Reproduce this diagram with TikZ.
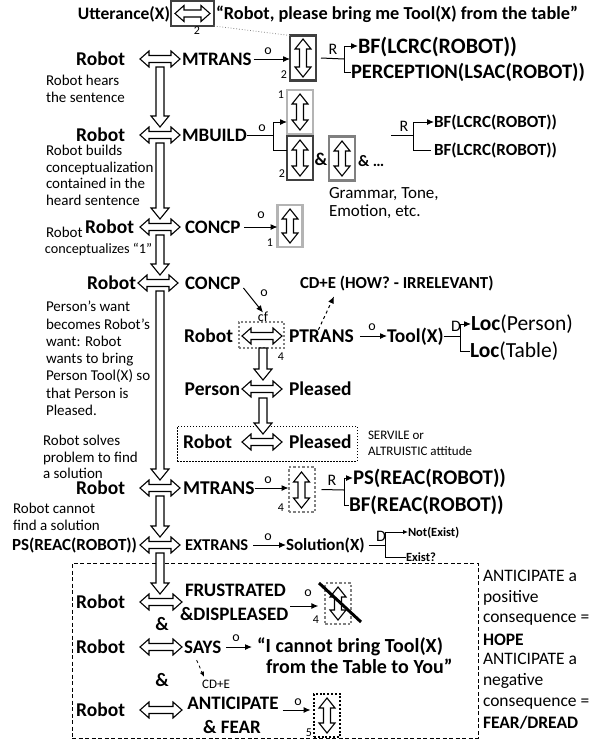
\documentclass[tikz,border=0pt]{standalone}
\usepackage{fontspec}
\setmainfont{Carlito}
\usetikzlibrary{arrows.meta}
\definecolor{dkg}{HTML}{404040}
\definecolor{mdg}{HTML}{808080}
\definecolor{ltg}{HTML}{B4B4B4}
\tikzset{
  every node/.style={inner sep=0pt, outer sep=0pt},
  B/.style={font=\bfseries\fontsize{#1}{#1}\selectfont, text height={0.644*#1}, text depth=0pt},
  N/.style={font=\fontsize{#1}{#1}\selectfont, text height={0.5*#1}, text depth=0pt},
  hol/.style={draw=black, line width=1.1pt, fill=white, line join=miter},
  ar/.style={-{Latex[length=7pt,width=6pt]}, line width=1pt},
  ln/.style={line width=1pt},
  bx/.style={draw=#1, line width=2.2pt, minimum width=26pt, minimum height=45pt},
  dbx/.style={draw=#1, line width=2pt, dash pattern=on 2.5pt off 2pt, minimum width=26pt, minimum height=45pt},
}
\newcommand\HArr[3]{\draw[hol] (#1,#3) -- ({#1+9},{#3-8}) -- ({#1+9},{#3-3.5}) -- ({#2-9},{#3-3.5}) -- ({#2-9},{#3-8}) -- (#2,#3) -- ({#2-9},{#3+8}) -- ({#2-9},{#3+3.5}) -- ({#1+9},{#3+3.5}) -- ({#1+9},{#3+8}) -- cycle;}
\newcommand\VArr[3]{\draw[hol] (#1,#2) -- ({#1+8},{#2+10}) -- ({#1+3.5},{#2+10}) -- ({#1+3.5},{#3-10}) -- ({#1+8},{#3-10}) -- (#1,#3) -- ({#1-8},{#3-10}) -- ({#1-3.5},{#3-10}) -- ({#1-3.5},{#2+10}) -- ({#1-8},{#2+10}) -- cycle;}
\newcommand\DArr[3]{\draw[hol] ({#1-4},#2) -- ({#1+4},#2) -- ({#1+4},{#3-11}) -- ({#1+9},{#3-11}) -- (#1,#3) -- ({#1-9},{#3-11}) -- ({#1-4},{#3-11}) -- cycle;}
\begin{document}
\begin{tikzpicture}[x=1pt,y=-1pt]
\useasboundingbox (0,0) rectangle (592,742);
% ---------- row 0
\node[B=17.5, anchor=east] (utt) at (170,14) {Utterance(X)};
\node[bx=dkg, minimum width=43pt, minimum height=25pt] (b0) at (192.5,13.5) {};
\HArr{175}{210}{13.5}
\node[N=12] (n0) at (197,31) {2};
\node[B=18.3, anchor=west] (q0) at (216,14) {“Robot, please bring me Tool(X) from the table”};
% ---------- row 1
\node[B=19.5, anchor=east] (r1) at (125,59) {Robot};
\HArr{140}{180}{59}
\node[B=19, anchor=west] (v1) at (182,59) {MTRANS};
\node[bx=dkg] (b1) at (303,58) {};
\VArr{303}{39}{77}
\draw[dotted, line width=0.8pt, mdg] (b0.south east) -- (b1.north west);
\draw[ar] ([xshift=2pt]v1.east) -- (v1.east -| b1.west);
\node[N=14] (o1) at (268,51) {o};
\node[N=12] (n1) at (284,75) {2};
\coordinate (br1) at (344,59);
\draw[ln] (b1.east) ++(5,0) -- (br1);
\node[N=16] (R1) at (333,50) {R};
\node[B=22, anchor=west] (bf1) at (358,46) {BF(LCRC(ROBOT))};
\node[B=20.5, anchor=west] (pc1) at (351,72) {PERCEPTION(LSAC(ROBOT))};
\draw[ar] (br1) |- (bf1.west);
\draw[ln] (br1) |- (pc1.west);
\node[N=15, anchor=west] (t1a) at (46,82) {Robot hears};
\node[N=15, anchor=west] (t1b) at (46,98.5) {the sentence};
\DArr{160}{67}{127}
% ---------- row 2
\node[B=19.5, anchor=east] (r2) at (125,135) {Robot};
\HArr{140}{180}{135}
\node[B=19, anchor=west] (v2) at (182,135) {MBUILD};
\node[bx=ltg, minimum height=44pt] (bm1) at (300,112) {};
\VArr{300}{94}{130}
\node[bx=dkg, minimum height=44pt, line width=2.6pt] (bm2) at (300,158) {};
\VArr{300}{140}{176}
\node[bx=mdg, minimum height=44pt] (bm3) at (342,158.5) {};
\VArr{342}{141}{176}
\coordinate (br2) at (273,135);
\draw[ln] (v2.east) -- (br2);
\draw[ar] (br2) |- ([yshift=-10pt]bm1.west);
\draw[ln] (br2) |- ([yshift=8pt]bm2.west);
\node[N=14] (o2) at (262,128) {o};
\node[N=12] (n2a) at (281,95) {1};
\node[N=12] (n2b) at (282,174) {2};
\node[B=18] (amp2) at (321,160) {\&};
\node[B=16, anchor=west] (amp3) at (358,161) {\& …};
\node[N=17, anchor=west] (gr1) at (329,194) {Grammar, Tone,};
\node[N=17, anchor=west] (gr2) at (329,212) {Emotion, etc.};
\coordinate (s2) at (391,135);
\coordinate (br2r) at (413,135);
\draw[ln] (s2) -- (br2r);
\node[N=16] (R2) at (404,127) {R};
\node[B=17, anchor=west] (bf2a) at (434,122) {BF(LCRC(ROBOT))};
\node[B=17, anchor=west] (bf2b) at (434,150) {BF(LCRC(ROBOT))};
\draw[ar] (br2r) |- (bf2a.west);
\draw[ln] (br2r) |- ([xshift=-3pt]bf2b.west);
\node[N=15, anchor=west] (t2a) at (46,152) {Robot builds};
\node[N=15, anchor=west] (t2b) at (46,168.5) {conceptualization};
\node[N=15, anchor=west] (t2c) at (46,185) {contained in the};
\node[N=15, anchor=west] (t2d) at (46,201.5) {heard sentence};
\DArr{160}{143}{219}
% ---------- row 3
\node[B=19.5, anchor=east] (r3) at (134,227) {Robot};
\HArr{140}{180}{227}
\node[B=19, anchor=west] (v3) at (185,227) {CONCP};
\node[bx=ltg, minimum width=25pt, minimum height=42pt] (bc1) at (290,226) {};
\VArr{290}{209}{243}
\draw[ar] ([xshift=4pt]v3.east) -- (v3.east -| bc1.west);
\node[N=14] (o3) at (261,215) {o};
\node[N=12] (n3) at (270,243) {1};
\node[N=15, anchor=west] (t3a) at (46,234) {Robot};
\node[N=14.2, anchor=west] (t3b) at (45,250) {conceptualizes “1”};
\DArr{160}{235}{275}
% ---------- row 4
\node[B=19.5, anchor=east] (r4) at (136,283) {Robot};
\HArr{138}{178}{283}
\node[B=19, anchor=west] (v4) at (185,283) {CONCP};
\node[B=16.8, anchor=west] (cde) at (300,283) {CD+E (HOW? - IRRELEVANT)};
\node[N=15, anchor=west] (t4a) at (46,308) {Person’s want};
\node[N=15, anchor=west] (t4b) at (46,325.3) {becomes Robot’s};
\node[N=15, anchor=west] (t4c) at (46,342.6) {want: Robot};
\node[N=15, anchor=west] (t4d) at (46,359.9) {wants to bring};
\node[N=15, anchor=west] (t4e) at (46,377.2) {Person Tool(X) so};
\node[N=15, anchor=west] (t4f) at (46,394.5) {that Person is};
\node[N=15, anchor=west] (t4g) at (46,411.8) {Pleased.};
\DArr{160}{291}{480}
% ---------- row 5 (cf)
\node[B=19.5, anchor=east] (r5) at (233,336) {Robot};
\node[draw=mdg, line width=1.5pt, dash pattern=on 2pt off 2pt, minimum width=45pt, minimum height=26pt] (bcf) at (261.5,335) {};
\HArr{242}{282}{336}
\node[N=14] (cf) at (263,318) {cf};
\draw[ar] (v4.east) ++(3,5) -- ([yshift=2pt]cf.north);
\node[N=14] (o4) at (264,293) {o};
\node[B=19.5, anchor=west] (v5) at (289,336) {PTRANS};
\draw[ar, dashed] ([xshift=-3pt]v5.north) -- ([xshift=34pt, yshift=-8pt]cde.south west);
\node[B=19.5, anchor=west] (tool) at (387,336) {Tool(X)};
\draw[ar] ([xshift=6pt]v5.east) -- (tool.west);
\node[N=14] (o5) at (372,327) {o};
\coordinate (br5) at (460,336);
\draw[ln] (tool.east) -- (br5);
\node[N=16] (D5) at (456,327) {D};
\node[B=21.5, anchor=west] (lp) at (471,324) {Loc\mdseries(Person)};
\node[B=21.5, anchor=west] (lt) at (470,351) {Loc\mdseries(Table)};
\draw[ar] (br5) |- (lp.west);
\draw[ln] (br5) |- (lt.west);
\node[N=12] (n5) at (281,357) {4};
\DArr{263}{348}{380}
% ---------- row 6
\node[B=19.5, anchor=east] (p6) at (240,389) {Person};
\HArr{242}{282}{389}
\node[B=19.5, anchor=west] (pl6) at (289,389) {Pleased};
% ---------- row 7
\node[draw, line width=0.9pt, dash pattern=on 1.5pt off 1.5pt, minimum width=180pt, minimum height=35pt] (pbox) at (267,443.5) {};
\DArr{263}{398}{434}
\node[B=19.5, anchor=east] (r7) at (232,442) {Robot};
\HArr{242}{282}{442}
\node[B=19.5, anchor=west] (pl7) at (289,442) {Pleased};
\node[N=13, anchor=west] (sv1) at (368,436) {SERVILE or};
\node[N=13, anchor=west] (sv2) at (368,452) {ALTRUISTIC attitude};
\node[N=15, anchor=west] (t7a) at (43,442) {Robot solves};
\node[N=15, anchor=west] (t7b) at (43,458.5) {problem to find};
\node[N=15, anchor=west] (t7c) at (43,475) {a solution};
% ---------- row 8
\node[B=19.5, anchor=east] (r8) at (125,488) {Robot};
\HArr{140}{180}{488}
\node[B=19.5, anchor=west] (v8) at (183,488) {MTRANS};
\node[dbx=mdg] (b4) at (301.5,489.5) {};
\VArr{301.5}{472}{508}
\draw[ar] (v8.east) -- (v8.east -| b4.west);
\node[N=14] (o8) at (268,480) {o};
\node[N=12] (n8) at (281,508) {4};
\coordinate (br8) at (344,490);
\draw[ln] (b4.east) ++(7,0) -- (br8);
\node[N=16] (R8) at (332,481) {R};
\node[B=20.8, anchor=west] (ps8) at (353,478) {PS(REAC(ROBOT))};
\node[B=21, anchor=west] (bf8) at (349,505) {BF(REAC(ROBOT))};
\draw[ar] (br8) |- (ps8.west);
\draw[ln] (br8) |- (bf8.west);
\node[N=15, anchor=west] (t8a) at (13,510) {Robot cannot};
\node[N=15, anchor=west] (t8b) at (13,527) {find a solution};
\DArr{160}{496}{537}
% ---------- row 9
\node[B=17, anchor=east] (r9) at (137,545) {PS(REAC(ROBOT))};
\HArr{140}{180}{545}
\node[B=16.5, anchor=west] (v9) at (185,545) {EXTRANS};
\node[B=17, anchor=west] (sol) at (286,545) {Solution(X)};
\draw[ar] ([xshift=5pt]v9.east) -- (sol.west);
\node[N=14] (o9) at (268,537) {o};
\coordinate (br9) at (385,545);
\draw[ln] ([xshift=4pt]sol.east) -- (br9);
\node[N=16] (D9) at (381,537) {D};
\node[B=12.5, anchor=west] (ne) at (408,532) {Not(Exist)};
\node[B=12.5, anchor=west] (ex) at (406,557) {Exist?};
\draw[-{Latex[length=5pt,width=4.5pt]}, line width=1pt] (br9) |- (ne.west);
\draw[ln] (br9) |- (ex.west);
% ---------- dashed box
\node[draw, line width=1pt, dash pattern=on 4pt off 2.5pt, minimum width=406pt, minimum height=175pt] (dbox) at (275,650.5) {};
\DArr{160}{553}{594}
% ---------- row 10
\node[B=19.5, anchor=east] (r10) at (125,602) {Robot};
\HArr{140}{182}{602}
\node[B=19, anchor=west] (v10a) at (185,590) {FRUSTRATED};
\node[B=19, anchor=west] (v10b) at (180,614) {\&DISPLEASED};
\node[B=19] (a10) at (162,624) {\&};
\node[dbx=mdg, minimum height=41pt] (b4x) at (338,603.5) {};
\VArr{338}{587}{620}
\draw[line width=3pt] ([xshift=-6pt]b4x.north west) -- ([xshift=10pt, yshift=2pt]b4x.south east);
\draw[ar] ([shift={(2pt,8pt)}]v10b.east) -- ++(28,0);
\node[N=14] (o10) at (308,593) {o};
\node[N=12] (n10) at (316,620) {4};
% ---------- row 11
\node[B=19.5, anchor=east] (r11) at (125,647) {Robot};
\HArr{140}{182}{647}
\node[B=19, anchor=west] (v11) at (184,647) {SAYS};
\node[B=20, anchor=west] (q11a) at (257,646) {“I cannot bring Tool(X)};
\node[B=20, anchor=west] (q11b) at (266,667) {from the Table to You”};
\draw[ar] ([xshift=5pt]v11.east) -- ([xshift=-5pt]v11.east -| q11a.west);
\node[N=14] (o11) at (236,638) {o};
\node[N=13] (cd11) at (216,685) {CD+E};
\draw[-{Latex[length=5pt,width=4.5pt]}, dashed, line width=0.8pt] ([shift={(-6pt,-7pt)}]v11.south) -- ([shift={(-12pt,5pt)}]cd11.north);
\node[B=19] (a11) at (162,680) {\&};
% ---------- row 12
\node[B=19.5, anchor=east] (r12) at (125,710) {Robot};
\HArr{140}{182}{710}
\node[B=19] (v12a) at (233,703) {ANTICIPATE};
\node[B=19] (v12b) at (232,727) {\& FEAR};
\node[draw, line width=2pt, dash pattern=on 2pt off 1.8pt, minimum width=26pt, minimum height=43pt] (b5) at (327,715.5) {};
\VArr{327}{698}{733}
\draw[ar] ([shift={(4pt,-7pt)}]v12a.east) -- ++(28,0);
\node[N=14] (o12) at (298,702) {o};
\node[N=12] (n12) at (309,733) {5};
% ---------- right column
\node[N=17.5, anchor=west] (c1) at (483,577) {ANTICIPATE a};
\node[N=17.5, anchor=west] (c2) at (483,597.8) {positive};
\node[N=17.5, anchor=west] (c3) at (483,618.6) {consequence =};
\node[B=17.5, anchor=west] (c4) at (483,639.4) {HOPE};
\node[N=17.5, anchor=west] (c5) at (483,660.2) {ANTICIPATE a};
\node[N=17.5, anchor=west] (c6) at (483,681) {negative};
\node[N=17.5, anchor=west] (c7) at (483,701.8) {consequence =};
\node[B=17.5, anchor=west] (c8) at (483,722.6) {FEAR/DREAD};
\end{tikzpicture}
\end{document}
